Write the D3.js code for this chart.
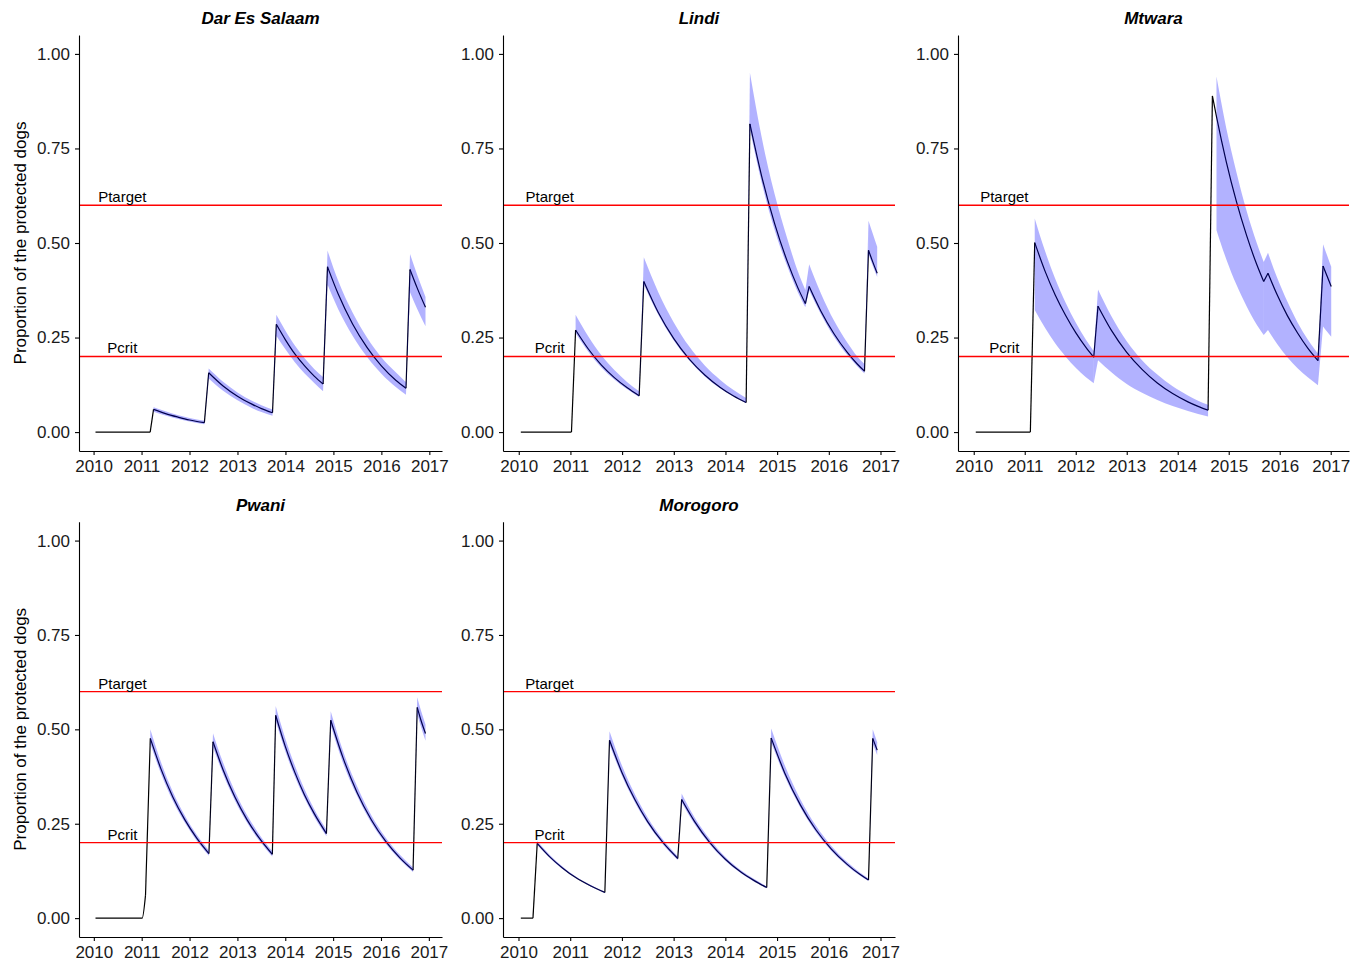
<!DOCTYPE html>
<html>
<head>
<meta charset="utf-8">
<script src="https://cdn.jsdelivr.net/npm/d3@7"></script>
<style>
  body { margin: 0; background: #fff; }
  svg text { font-family: "Liberation Sans", Arial, sans-serif; }
</style>
</head>
<body>
<svg id="chart" width="1369" height="964"></svg>
<script>
// ---------------- data ----------------
const regions = ["Dar Es Salaam", "Lindi", "Mtwara", "Pwani", "Morogoro"];
const yTicks = [0, 0.25, 0.5, 0.75, 1.0];
const xTicks = [2010, 2011, 2012, 2013, 2014, 2015, 2016, 2017];
const refLevels = [0.6, 0.2];
const refLabels = ["Ptarget", "Pcrit"];
const refLabelYear = 2010.6;
const yAxisTitle = "Proportion of the protected dogs";
const yDomain = [-0.05, 1.05];

// Dar Es Salaam (one inner array per vaccination period)
const darTime = [
  [2010.04, 2010.5, 2011.0, 2011.18],
  [2011.25, 2011.5, 2011.75, 2012.0, 2012.31],
  [2012.40, 2012.7, 2013.0, 2013.3, 2013.5, 2013.73],
  [2013.81, 2014.0, 2014.2, 2014.4, 2014.6, 2014.785],
  [2014.877, 2015.1, 2015.4, 2015.7, 2016.0, 2016.3, 2016.513],
  [2016.597, 2016.75, 2016.92]
];
const darMean = [
  [0, 0, 0, 0],
  [0.060, 0.049, 0.040, 0.032, 0.025],
  [0.157, 0.122, 0.095, 0.074, 0.062, 0.051],
  [0.285, 0.244, 0.206, 0.175, 0.148, 0.127],
  [0.437, 0.365, 0.286, 0.224, 0.175, 0.137, 0.116],
  [0.430, 0.380, 0.330]
];
const darLower = [
  [null, null, null, null],
  [0.054, 0.044, 0.035, 0.028, 0.021],
  [0.142, 0.109, 0.084, 0.064, 0.053, 0.043],
  [0.255, 0.219, 0.184, 0.155, 0.130, 0.108],
  [0.390, 0.325, 0.255, 0.199, 0.154, 0.119, 0.099],
  [0.370, 0.325, 0.280]
];
const darUpper = [
  [null, null, null, null],
  [0.066, 0.055, 0.045, 0.037, 0.030],
  [0.168, 0.133, 0.105, 0.083, 0.071, 0.060],
  [0.310, 0.268, 0.228, 0.195, 0.167, 0.146],
  [0.480, 0.400, 0.316, 0.250, 0.198, 0.158, 0.132],
  [0.471, 0.415, 0.357]
];

// Lindi
const lindiTime = [
  [2010.04, 2010.5, 2011.02],
  [2011.10, 2011.35, 2011.6, 2011.85, 2012.1, 2012.33],
  [2012.42, 2012.7, 2013.0, 2013.3, 2013.6, 2013.9, 2014.15, 2014.40],
  [2014.473, 2014.7, 2014.95, 2015.2, 2015.4, 2015.546],
  [2015.62, 2015.85, 2016.1, 2016.35, 2016.55, 2016.69],
  [2016.768, 2016.85, 2016.936]
];
const lindiMean = [
  [0, 0, 0],
  [0.270, 0.219, 0.177, 0.144, 0.117, 0.096],
  [0.398, 0.316, 0.247, 0.193, 0.151, 0.118, 0.096, 0.078],
  [0.815, 0.677, 0.552, 0.450, 0.382, 0.340],
  [0.385, 0.319, 0.260, 0.212, 0.180, 0.161],
  [0.481, 0.450, 0.420]
];
const lindiLower = [
  [null, null, null],
  [0.262, 0.212, 0.171, 0.139, 0.113, 0.093],
  [0.390, 0.310, 0.242, 0.189, 0.147, 0.115, 0.094, 0.076],
  [0.800, 0.660, 0.535, 0.437, 0.370, 0.330],
  [0.375, 0.311, 0.252, 0.205, 0.174, 0.155],
  [0.470, 0.440, 0.410]
];
const lindiUpper = [
  [null, null, null],
  [0.310, 0.252, 0.203, 0.164, 0.132, 0.108],
  [0.462, 0.370, 0.290, 0.226, 0.176, 0.138, 0.112, 0.090],
  [0.950, 0.780, 0.630, 0.510, 0.425, 0.376],
  [0.444, 0.366, 0.295, 0.238, 0.200, 0.180],
  [0.559, 0.525, 0.490]
];

// Mtwara
const mtwaraTime = [
  [2010.04, 2010.5, 2011.11],
  [2011.196, 2011.4, 2011.6, 2011.8, 2012.0, 2012.2, 2012.353],
  [2012.437, 2012.7, 2013.0, 2013.3, 2013.6, 2013.9, 2014.2, 2014.4, 2014.595],
  [2014.68, 2014.76, 2014.95, 2015.15, 2015.35, 2015.55, 2015.686],
  [2015.77, 2015.95, 2016.15, 2016.35, 2016.55, 2016.75],
  [2016.85, 2016.93, 2017.01]
];
const mtwaraMean = [
  [0, 0, 0],
  [0.501, 0.425, 0.362, 0.309, 0.263, 0.224, 0.198],
  [0.333, 0.269, 0.211, 0.166, 0.130, 0.102, 0.080, 0.068, 0.058],
  [0.889, 0.834, 0.716, 0.610, 0.520, 0.443, 0.398],
  [0.420, 0.363, 0.308, 0.262, 0.222, 0.189],
  [0.439, 0.412, 0.385]
];
const mtwaraLower = [
  [null, null, null],
  [0.323, 0.275, 0.234, 0.200, 0.170, 0.145, 0.129],
  [0.190, 0.158, 0.127, 0.104, 0.085, 0.069, 0.056, 0.048, 0.041],
  [null, 0.534, 0.458, 0.390, 0.333, 0.284, 0.257],
  [0.270, 0.233, 0.198, 0.169, 0.145, 0.124],
  [0.279, 0.265, 0.252]
];
const mtwaraUpper = [
  [null, null, null],
  [0.565, 0.478, 0.405, 0.343, 0.290, 0.244, 0.214],
  [0.377, 0.306, 0.240, 0.190, 0.152, 0.121, 0.097, 0.083, 0.072],
  [null, 0.940, 0.805, 0.688, 0.585, 0.500, 0.450],
  [0.474, 0.408, 0.345, 0.290, 0.245, 0.208],
  [0.497, 0.467, 0.437]
];

// Pwani
const pwaniTime = [
  [2010.035, 2010.5, 2011.01, 2011.08],
  [2011.18, 2011.4, 2011.65, 2011.9, 2012.15, 2012.405],
  [2012.49, 2012.7, 2012.95, 2013.2, 2013.45, 2013.73],
  [2013.80, 2014.0, 2014.2, 2014.4, 2014.6, 2014.86],
  [2014.95, 2015.2, 2015.5, 2015.8, 2016.1, 2016.4, 2016.67],
  [2016.757, 2016.84, 2016.93]
];
const pwaniMean = [
  [0, 0, 0, 0.061],
  [0.476, 0.396, 0.321, 0.261, 0.212, 0.171],
  [0.467, 0.393, 0.320, 0.261, 0.213, 0.169],
  [0.537, 0.455, 0.386, 0.327, 0.278, 0.224],
  [0.524, 0.427, 0.333, 0.260, 0.203, 0.159, 0.127],
  [0.558, 0.522, 0.489]
];
const pwaniLower = [
  [null, null, null, null],
  [0.462, 0.384, 0.311, 0.253, 0.205, 0.165],
  [0.453, 0.382, 0.311, 0.253, 0.206, 0.163],
  [0.522, 0.442, 0.375, 0.318, 0.269, 0.217],
  [0.510, 0.413, 0.324, 0.252, 0.197, 0.154, 0.122],
  [0.540, 0.505, 0.470]
];
const pwaniUpper = [
  [null, null, null, null],
  [0.500, 0.414, 0.335, 0.272, 0.221, 0.179],
  [0.490, 0.412, 0.335, 0.273, 0.223, 0.177],
  [0.562, 0.476, 0.404, 0.342, 0.290, 0.235],
  [0.548, 0.445, 0.349, 0.272, 0.213, 0.167, 0.134],
  [0.585, 0.548, 0.513]
];

// Morogoro
const moroTime = [
  [2010.045, 2010.28],
  [2010.362, 2010.6, 2010.85, 2011.1, 2011.4, 2011.67],
  [2011.76, 2012.0, 2012.25, 2012.5, 2012.8, 2013.08],
  [2013.155, 2013.4, 2013.7, 2014.0, 2014.3, 2014.55, 2014.80],
  [2014.887, 2015.15, 2015.45, 2015.75, 2016.05, 2016.35, 2016.6, 2016.768],
  [2016.85, 2016.936]
];
const moroMean = [
  [0, 0],
  [0.198, 0.163, 0.133, 0.108, 0.085, 0.068],
  [0.471, 0.386, 0.314, 0.255, 0.199, 0.158],
  [0.314, 0.257, 0.200, 0.156, 0.122, 0.100, 0.081],
  [0.477, 0.384, 0.300, 0.234, 0.183, 0.143, 0.116, 0.101],
  [0.476, 0.445]
];
const moroLower = [
  [null, null],
  [0.194, 0.160, 0.130, 0.106, 0.083, 0.066],
  [0.460, 0.377, 0.307, 0.249, 0.194, 0.154],
  [0.306, 0.250, 0.195, 0.152, 0.119, 0.097, 0.079],
  [0.465, 0.375, 0.293, 0.228, 0.178, 0.139, 0.113, 0.098],
  [0.462, 0.432]
];
const moroUpper = [
  [null, null],
  [0.204, 0.168, 0.137, 0.111, 0.088, 0.070],
  [0.495, 0.404, 0.328, 0.266, 0.207, 0.164],
  [0.330, 0.268, 0.209, 0.162, 0.127, 0.104, 0.084],
  [0.502, 0.404, 0.315, 0.245, 0.191, 0.149, 0.121, 0.105],
  [0.500, 0.466]
];

const series = [
  { time: darTime,    mean: darMean,    lower: darLower,    upper: darUpper },
  { time: lindiTime,  mean: lindiMean,  lower: lindiLower,  upper: lindiUpper },
  { time: mtwaraTime, mean: mtwaraMean, lower: mtwaraLower, upper: mtwaraUpper },
  { time: pwaniTime,  mean: pwaniMean,  lower: pwaniLower,  upper: pwaniUpper },
  { time: moroTime,   mean: moroMean,   lower: moroLower,   upper: moroUpper }
];

// ---------------- layout ----------------
const panelBoxes = [
  { l: 79,  r: 442,  t: 35,    b: 451 },
  { l: 503, r: 895,  t: 35,    b: 451 },
  { l: 958, r: 1349, t: 35,    b: 451 },
  { l: 79,  r: 442,  t: 521.7, b: 937 },
  { l: 503, r: 895,  t: 521.7, b: 937 }
];
const showYTitle = [true, false, false, true, false];

const svg = d3.select("#chart");
svg.append("rect").attr("width", 1369).attr("height", 964).attr("fill", "#fff");

regions.forEach((name, i) => {
  const box = panelBoxes[i];
  const s = series[i];
  const segs = s.time.map((ts, k) => ts.map((t, j) => ({
    t: t, v: s.mean[k][j], lo: s.lower[k][j], hi: s.upper[k][j]
  })));
  const all = segs.flat();
  const ext = d3.extent(all, d => d.t);
  const pad = (ext[1] - ext[0]) * 0.05;
  const x = d3.scaleLinear().domain([ext[0] - pad, ext[1] + pad]).range([box.l, box.r]);
  const y = d3.scaleLinear().domain(yDomain).range([box.b, box.t]);

  const g = svg.append("g");

  // mean line: smooth within each period, straight jumps between periods
  const line = d3.line().x(d => x(d.t)).y(d => y(d.v)).curve(d3.curveMonotoneX);
  segs.forEach(seg => {
    g.append("path").datum(seg).attr("d", line)
      .attr("fill", "none").attr("stroke", "#000").attr("stroke-width", 1.2);
  });
  const jumps = [];
  for (let k = 0; k < segs.length - 1; k++) {
    jumps.push([segs[k][segs[k].length - 1], segs[k + 1][0]]);
  }
  const straight = d3.line().x(d => x(d.t)).y(d => y(d.v));
  jumps.forEach(pair => {
    g.append("path").datum(pair).attr("d", straight)
      .attr("fill", "none").attr("stroke", "#000").attr("stroke-width", 1.2);
  });

  // confidence ribbons (drawn over the line, like the original), continuous where defined
  const defined = d => d.lo != null && d.hi != null;
  const area = d3.area().defined(defined)
    .x(d => x(d.t)).y0(d => y(d.lo)).y1(d => y(d.hi))
    .curve(d3.curveMonotoneX);
  const areaLin = d3.area().defined(defined)
    .x(d => x(d.t)).y0(d => y(d.lo)).y1(d => y(d.hi));
  const bandFill = g.append("g").attr("fill", "blue").attr("fill-opacity", 0.3).attr("stroke", "none");
  segs.forEach(seg => bandFill.append("path").datum(seg).attr("d", area));
  jumps.forEach(pair => {
    if (defined(pair[0]) && defined(pair[1])) bandFill.append("path").datum(pair).attr("d", areaLin);
  });

  // reference lines
  refLevels.forEach((lv, k) => {
    g.append("line")
      .attr("x1", box.l).attr("x2", box.r)
      .attr("y1", y(lv)).attr("y2", y(lv))
      .attr("stroke", "#ff0000").attr("stroke-width", 1.4);
    g.append("text")
      .attr("x", x(refLabelYear)).attr("y", y(lv) - 3)
      .attr("text-anchor", "middle")
      .attr("font-size", 15).attr("fill", "#000")
      .text(refLabels[k]);
  });

  // axes
  const xAxis = d3.axisBottom(x).tickValues(xTicks).tickFormat(d3.format("d"))
    .tickSizeInner(4).tickSizeOuter(0).tickPadding(5);
  const yAxis = d3.axisLeft(y).tickValues(yTicks).tickFormat(d3.format(".2f"))
    .tickSizeInner(4).tickSizeOuter(0).tickPadding(5);

  const gx = g.append("g").attr("transform", `translate(0,${box.b})`).call(xAxis);
  const gy = g.append("g").attr("transform", `translate(${box.l},0)`).call(yAxis);
  [gx, gy].forEach(ax => {
    ax.select(".domain").attr("stroke", "#000").attr("stroke-width", 1.1);
    ax.selectAll(".tick line").attr("stroke", "#000").attr("stroke-width", 1.1);
    ax.selectAll(".tick text").attr("font-size", 17).attr("fill", "#1a1a1a")
      .attr("font-family", "'Liberation Sans', Arial, sans-serif");
  });

  // title
  g.append("text")
    .attr("x", (box.l + box.r) / 2).attr("y", box.t - 11)
    .attr("text-anchor", "middle")
    .attr("font-size", 17).attr("font-weight", "bold").attr("font-style", "italic")
    .attr("fill", "#000")
    .text(name);

  if (showYTitle[i]) {
    const cy = (box.t + box.b) / 2;
    g.append("text")
      .attr("transform", `translate(26,${cy}) rotate(-90)`)
      .attr("text-anchor", "middle")
      .attr("font-size", 17).attr("fill", "#000")
      .text(yAxisTitle);
  }
});
</script>
</body>
</html>
